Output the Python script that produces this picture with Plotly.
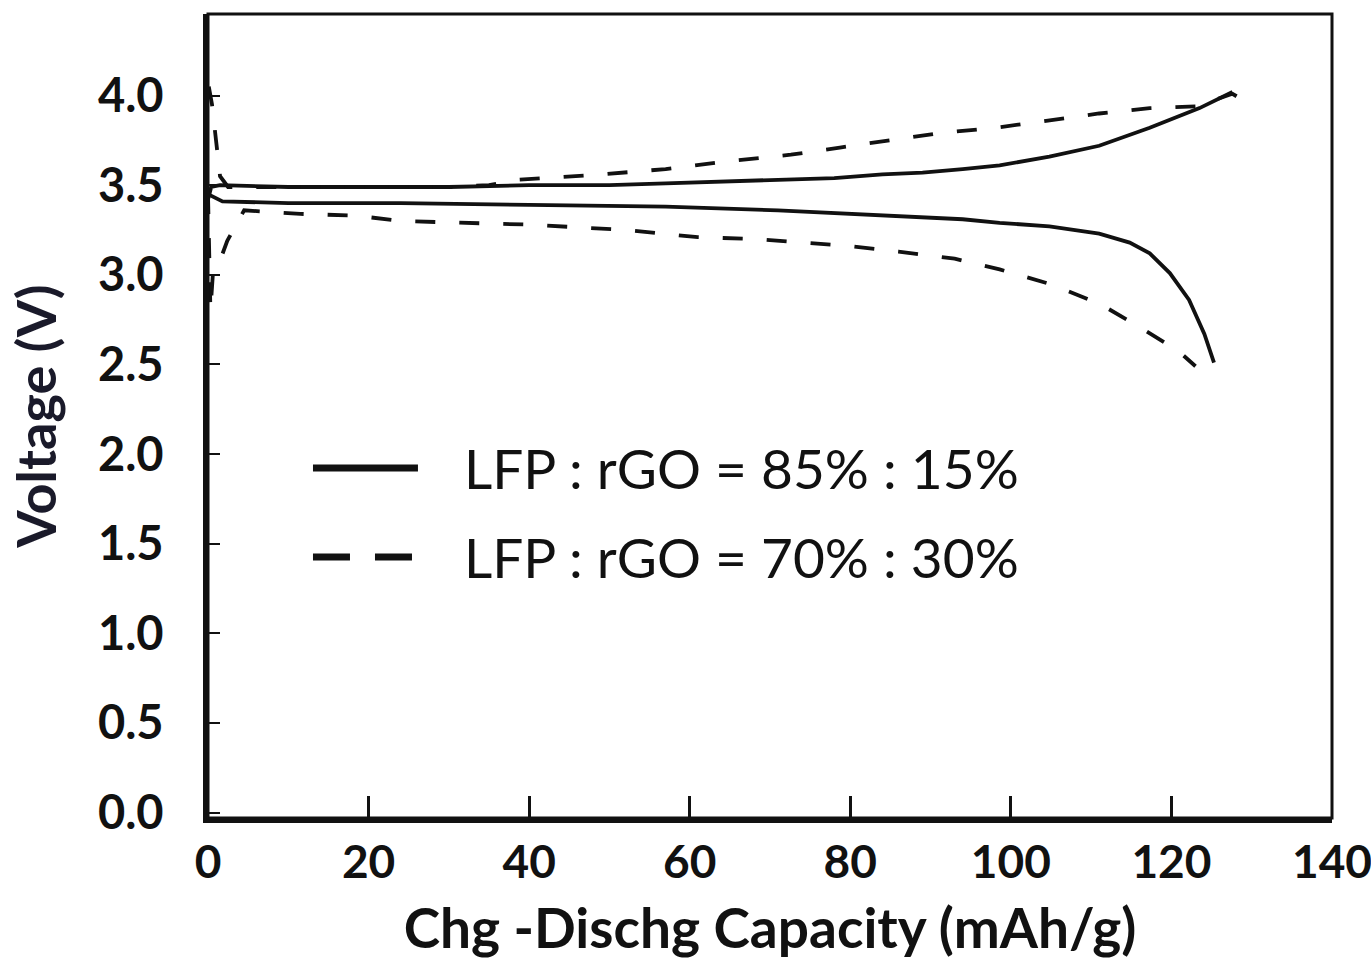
import plotly.graph_objects as go

# Capacity (mAh/g) and voltage (V) for each cathode composition
cap_charge_85 = [0, 0.4, 1.5, 10, 20, 30, 40, 50, 57, 65, 72, 78, 84, 89, 94, 98.6, 104.8, 111, 117.3, 123.5, 127.6]
v_charge_85 = [3.42, 3.49, 3.50, 3.49, 3.49, 3.49, 3.50, 3.50, 3.51, 3.52, 3.53, 3.54, 3.56, 3.57, 3.59, 3.61, 3.66, 3.72, 3.82, 3.93, 4.02]

cap_discharge_85 = [0, 1.8, 10, 24, 40, 57, 71, 80.6, 88, 94, 98.6, 104.8, 111, 114.8, 117.3, 119.8, 122.2, 124.1, 125.3]
v_discharge_85 = [3.45, 3.41, 3.40, 3.40, 3.39, 3.38, 3.36, 3.34, 3.32, 3.31, 3.29, 3.27, 3.23, 3.18, 3.12, 3.01, 2.86, 2.67, 2.51]

cap_charge_70 = [0.1, 0.5, 1.0, 1.5, 2.5, 10, 20, 30, 35, 38.6, 49, 57, 64, 72.6, 78.7, 85, 91, 98, 104.8, 111, 117.3, 123.1, 127.6, 129.1]
v_charge_70 = [4.05, 3.95, 3.75, 3.55, 3.49, 3.49, 3.49, 3.49, 3.50, 3.53, 3.56, 3.59, 3.63, 3.67, 3.71, 3.75, 3.79, 3.82, 3.86, 3.90, 3.93, 3.94, 4.01, 3.97]

cap_discharge_70 = [0, 0.3, 0.6, 1.5, 2.4, 4.5, 8, 11.5, 18.5, 24, 40, 52, 61, 68, 74, 80, 86, 93, 98.6, 104.8, 111, 116, 121, 123]
v_discharge_70 = [3.45, 2.80, 3.00, 3.08, 3.19, 3.36, 3.35, 3.34, 3.33, 3.30, 3.28, 3.25, 3.21, 3.20, 3.18, 3.16, 3.13, 3.09, 3.03, 2.95, 2.84, 2.71, 2.57, 2.49]

x_ticks = [0, 20, 40, 60, 80, 100, 120, 140]
y_ticks = [0.0, 0.5, 1.0, 1.5, 2.0, 2.5, 3.0, 3.5, 4.0]
legend_labels = ["LFP : rGO = 85% : 15%", "LFP : rGO = 70% : 30%"]

INK = "#111111"
DASH = "20px,24px"
FONT = "Lato"

fig = go.Figure()

solid = dict(color=INK, width=3.8)
dashed = dict(color=INK, width=3.8, dash=DASH)

fig.add_trace(go.Scatter(x=cap_charge_85, y=v_charge_85, mode="lines", line=solid, name=legend_labels[0]))
fig.add_trace(go.Scatter(x=cap_discharge_85, y=v_discharge_85, mode="lines", line=solid, name=legend_labels[0]))
fig.add_trace(go.Scatter(x=cap_charge_70, y=v_charge_70, mode="lines", line=dashed, name=legend_labels[1]))
fig.add_trace(go.Scatter(x=cap_discharge_70, y=v_discharge_70, mode="lines", line=dashed, name=legend_labels[1]))

# Plot frame: thin top/right border
fig.add_shape(type="rect", xref="paper", yref="paper", x0=0, y0=0, x1=1, y1=1,
              line=dict(color=INK, width=3), layer="above")

# Hand-built legend with long line samples
fig.add_shape(type="line", xref="paper", yref="paper", x0=0.0934, x1=0.1868, y0=0.4353, y1=0.4353,
              line=dict(color=INK, width=7))
fig.add_shape(type="line", xref="paper", yref="paper", x0=0.0934, x1=0.1868, y0=0.3246, y1=0.3246,
              line=dict(color=INK, width=7, dash="37px,25px"))
for label, yp in zip(legend_labels, [0.4353, 0.3246]):
    fig.add_annotation(x=0.226, y=yp, xref="paper", yref="paper", text=label, showarrow=False,
                       xanchor="left", yanchor="middle",
                       font=dict(family=FONT, size=55, color=INK))

fig.update_layout(
    width=1371, height=965,
    margin=dict(l=208, r=39, t=14, b=147),
    paper_bgcolor="white", plot_bgcolor="white",
    showlegend=False,
    font=dict(family=FONT, color=INK),
)

fig.update_xaxes(
    range=[0, 140], tickvals=x_ticks, ticktext=[str(v) for v in x_ticks],
    automargin=False,
    showgrid=False, zeroline=False,
    showline=True, linecolor=INK, linewidth=5,
    ticks="inside", ticklen=22, tickwidth=3, tickcolor=INK,
    ticklabelstandoff=0, ticklabeloverflow="allow",
    tickfont=dict(family=FONT, size=46, color=INK, weight="bold"),
    title=dict(text="Chg -Dischg Capacity (mAh/g)", standoff=24,
               font=dict(family=FONT, size=55, color=INK, weight="bold")),
)
fig.update_yaxes(
    range=[-0.03, 4.455], tickvals=y_ticks, ticktext=[f"{v:.1f}" for v in y_ticks],
    automargin=False,
    showgrid=False, zeroline=False,
    showline=True, linecolor=INK, linewidth=5,
    ticks="inside", ticklen=12, tickwidth=2, tickcolor=INK,
    ticklabelstandoff=30,
    tickfont=dict(family=FONT, size=47, color=INK, weight="bold"),
    title=dict(text="Voltage (V)", standoff=26,
               font=dict(family=FONT, size=54, color="#1a1a2a", weight="bold")),
)

fig.write_html("out.html")
